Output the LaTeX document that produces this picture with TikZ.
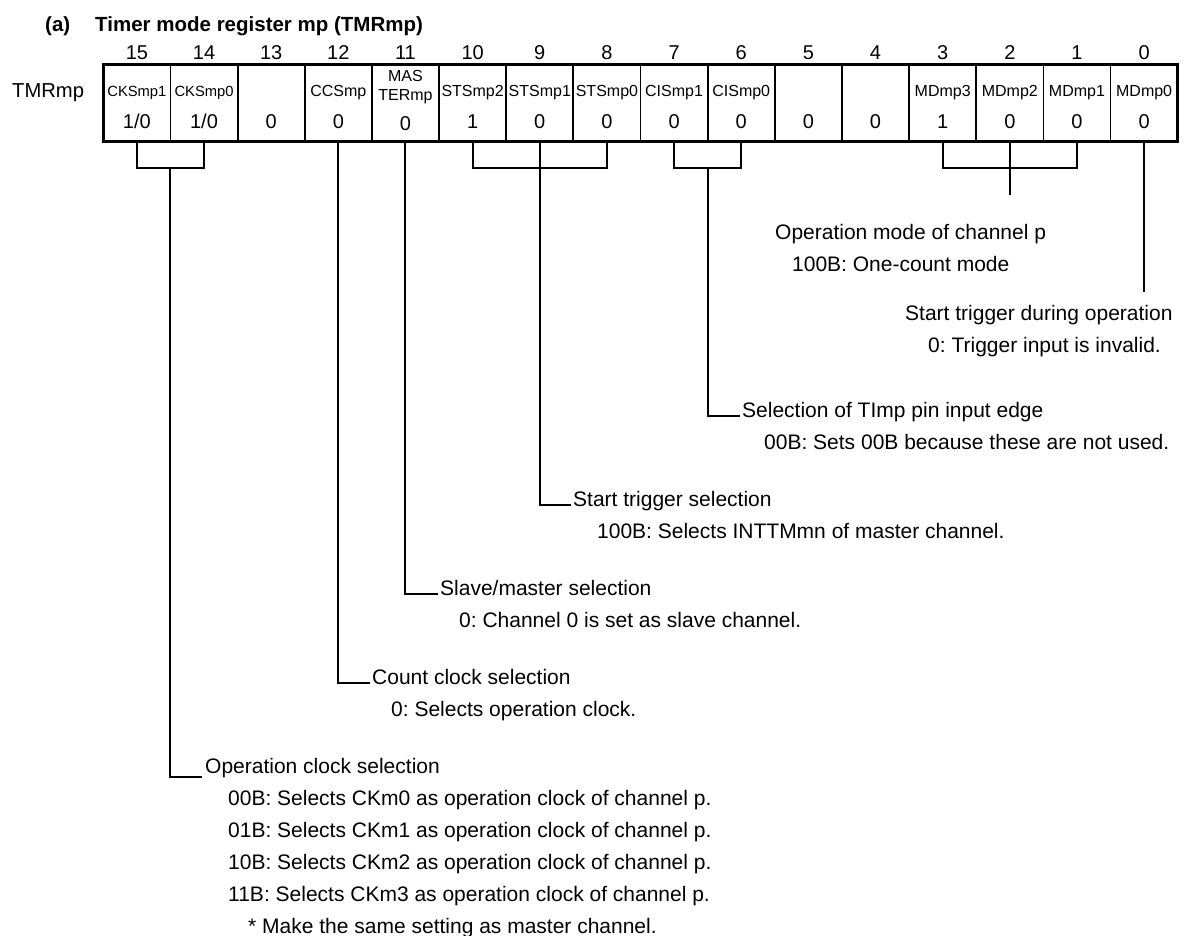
\documentclass[tikz,border=0pt]{standalone}
\usepackage{fontspec}
\setmainfont{Liberation Sans}
\usetikzlibrary{calc}
\frenchspacing
\begin{document}
\begin{tikzpicture}[x=1pt,y=-1pt,
  cell/.style={draw,line width=1.8pt,minimum width=67.15pt,minimum height=77.4pt,inner sep=0pt,outer sep=0pt,anchor=north west},
  bitno/.style={font=\fontsize{20}{24}\selectfont,inner sep=0pt,anchor=base},
  fname/.style={font=\fontsize{16}{19}\selectfont,inner sep=0pt,anchor=base},
  fsmall/.style={font=\fontsize{14.75}{17}\selectfont,inner sep=0pt,anchor=base},
  fval/.style={font=\fontsize{20}{24}\selectfont,inner sep=0pt,anchor=base},
  desc/.style={font=\fontsize{21}{24}\selectfont,inner sep=0pt,anchor=base west},
  wire/.style={line width=2pt}
]
\useasboundingbox (0,0) rectangle (1184,936);
\node[font=\fontsize{20.5}{24}\selectfont\bfseries,inner sep=0pt,anchor=base west] (title) at (45,31.5) {(a)\hspace{25pt}Timer mode register mp (TMRmp)};
\node[font=\fontsize{20.2}{24}\selectfont,inner sep=0pt,anchor=base west] (regname) at (12,97.5) {TMRmp};
\foreach \b in {15,14,...,0} {
  \node[cell] (c\b) at ({103.3+(15-\b)*67.15},64.3) {};
  \node[bitno] (n\b) at ([yshift=5pt]c\b.north) {\b};
}
\draw[line width=3pt] (c15.north west) rectangle (c0.south east);
% field names
\node[fsmall] (f15) at (c15.center |- 0,96.5) {CKSmp1};
\node[fsmall] (f14) at (c14.center |- 0,96.5) {CKSmp0};
\node[fname] (f12) at (c12.center |- 0,96.5) {CCSmp};
\node[fname] (f11a) at (c11.center |- 0,82) {MAS};
\node[fname] (f11b) at (c11.center |- 0,101) {TERmp};
\node[fname] (f10) at (c10.center |- 0,96.5) {STSmp2};
\node[fname] (f9) at (c9.center |- 0,96.5) {STSmp1};
\node[fname] (f8) at (c8.center |- 0,96.5) {STSmp0};
\node[fname] (f7) at (c7.center |- 0,96.5) {CISmp1};
\node[fname] (f6) at (c6.center |- 0,96.5) {CISmp0};
\node[fname] (f3) at (c3.center |- 0,96.5) {MDmp3};
\node[fname] (f2) at (c2.center |- 0,96.5) {MDmp2};
\node[fname] (f1) at (c1.center |- 0,96.5) {MDmp1};
\node[fname] (f0) at (c0.center |- 0,96.5) {MDmp0};
% values
\node[fval] (v15) at (c15.center |- 0,129) {1/0};
\node[fval] (v14) at (c14.center |- 0,129) {1/0};
\node[fval] (v13) at (c13.center |- 0,129) {0};
\node[fval] (v12) at (c12.center |- 0,129) {0};
\node[fval] (v11) at (c11.center |- 0,131) {0};
\node[fval] (v10) at (c10.center |- 0,129) {1};
\node[fval] (v9) at (c9.center |- 0,129) {0};
\node[fval] (v8) at (c8.center |- 0,129) {0};
\node[fval] (v7) at (c7.center |- 0,129) {0};
\node[fval] (v6) at (c6.center |- 0,129) {0};
\node[fval] (v5) at (c5.center |- 0,129) {0};
\node[fval] (v4) at (c4.center |- 0,129) {0};
\node[fval] (v3) at (c3.center |- 0,129) {1};
\node[fval] (v2) at (c2.center |- 0,129) {0};
\node[fval] (v1) at (c1.center |- 0,129) {0};
\node[fval] (v0) at (c0.center |- 0,129) {0};
% descriptions
\node[desc] (d0a) at (775,239.5) {Operation mode of channel p};
\node[desc] (d0b) at (792,271.5) {100B: One-count mode};
\node[desc] (d1a) at (905,320.5) {Start trigger during operation};
\node[desc] (d1b) at (928,352.5) {0: Trigger input is invalid.};
\node[desc] (d2a) at (742,417.5) {Selection of TImp pin input edge};
\node[desc] (d2b) at (764,449.5) {00B: Sets 00B because these are not used.};
\node[desc] (d3a) at (573,506.5) {Start trigger selection};
\node[desc] (d3b) at (597,538.5) {100B: Selects INTTMmn of master channel.};
\node[desc] (d4a) at (440,595.5) {Slave/master selection};
\node[desc] (d4b) at (459,627.5) {0: Channel 0 is set as slave channel.};
\node[desc] (d5a) at (372,684.5) {Count clock selection};
\node[desc] (d5b) at (391,716.5) {0: Selects operation clock.};
\node[desc] (d6a) at (205,773.5) {Operation clock selection};
\node[desc] (d6b) at (228,805.5) {00B: Selects CKm0 as operation clock of channel p.};
\node[desc] (d6c) at (228,837.5) {01B: Selects CKm1 as operation clock of channel p.};
\node[desc] (d6d) at (228,869.5) {10B: Selects CKm2 as operation clock of channel p.};
\node[desc] (d6e) at (228,901.5) {11B: Selects CKm3 as operation clock of channel p.};
\node[desc] (d6f) at (248,933) {* Make the same setting as master channel.};
% connectors
\coordinate (k1) at (c15.south east |- 0,168.3);
\draw[wire] (c15.south) |- (k1) -| (c14.south);
\draw[wire] (k1) |- ([xshift=-3pt,yshift=-3.5pt]d6a.base west);
\draw[wire] (c12.south) |- ([xshift=-2pt,yshift=1.5pt]d5a.base west);
\draw[wire] (c11.south) |- ([xshift=-2pt,yshift=1.5pt]d4a.base west);
\coordinate (k3) at (c9.south |- 0,168.3);
\draw[wire] (c10.south) |- (k3) -| (c8.south);
\draw[wire] (c9.south) |- ([xshift=-2pt,yshift=1.5pt]d3a.base west);
\coordinate (k2) at (c7.south east |- 0,168.3);
\draw[wire] (c7.south) |- (k2) -| (c6.south);
\draw[wire] (k2) |- ([xshift=-2pt,yshift=1.5pt]d2a.base west);
\coordinate (k4) at (c2.south |- 0,168.3);
\draw[wire] (c3.south) |- (k4) -| (c1.south);
\coordinate (m2end) at (c2.south |- 0,195);
\draw[wire] (c2.south) -- (m2end);
\coordinate (m0end) at (c0.south |- 0,292);
\draw[wire] (c0.south) -- (m0end);
\end{tikzpicture}
\end{document}
